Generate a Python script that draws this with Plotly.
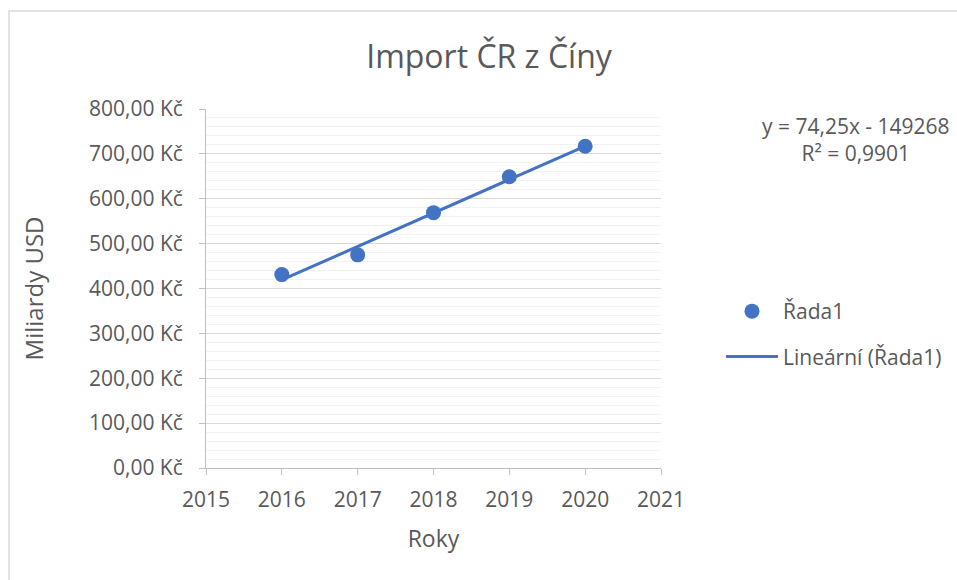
import numpy as np
import plotly.graph_objects as go

# Data
years = [2016, 2017, 2018, 2019, 2020]
import_values = [431, 475, 569, 649, 717]
series_name = "Řada1"
trend_name = "Lineární (Řada1)"
y_tick_vals = [0, 100, 200, 300, 400, 500, 600, 700, 800]
y_tick_text = ["0,00 Kč", "100,00 Kč", "200,00 Kč", "300,00 Kč", "400,00 Kč",
               "500,00 Kč", "600,00 Kč", "700,00 Kč", "800,00 Kč"]
x_tick_vals = [2015, 2016, 2017, 2018, 2019, 2020, 2021]
title_text = "Import ČR z Číny"
x_title = "Roky"
y_title = "Miliardy USD"
equation_text = "y = 74,25x - 149268<br>R² = 0,9901"

W, H = 957, 580
L, R, T, B = 206, 296, 109, 112
PW, PH = W - L - R, H - T - B

def px(x):
    return (x - L) / PW

def py(y):
    return (H - B - y) / PH

blue = "#4472C4"
txt = "#595959"
font_family = "Open Sans, Noto Sans, sans-serif"

slope, intercept = np.polyfit(years, import_values, 1)
trend_x = [years[0], years[-1]]
trend_y = [slope * x + intercept for x in trend_x]

fig = go.Figure()
fig.add_trace(go.Scatter(
    x=years, y=import_values, mode="markers", name=series_name,
    marker=dict(color=blue, size=15), legendgroup="a",
    cliponaxis=False,
))
fig.add_trace(go.Scatter(
    x=trend_x, y=trend_y, mode="lines", name=trend_name,
    line=dict(color=blue, width=3), legendgroup="b",
))

fig.update_layout(
    width=W, height=H,
    margin=dict(l=L, r=R, t=T, b=B, autoexpand=False),
    paper_bgcolor="white", plot_bgcolor="white",
    font=dict(family=font_family, color=txt, size=21),
    title=dict(text=title_text, x=489 / W, xanchor="center", xref="container",
               y=1 - 57 / H, yanchor="middle",
               font=dict(size=32, color=txt, family=font_family)),
    showlegend=True,
    legend=dict(x=px(721), y=py(291), xanchor="left", yanchor="top",
                font=dict(size=21, color=txt), tracegroupgap=15,
                itemwidth=52,
                bgcolor="rgba(0,0,0,0)"),
    xaxis=dict(
        range=[2015, 2021], tickvals=x_tick_vals,
        showgrid=False, zeroline=False,
        showline=True, linecolor="#BFBFBF", linewidth=1,
        ticks="outside", ticklen=6, tickcolor="#BFBFBF",
        ticklabelstandoff=7,
        tickfont=dict(size=21, color=txt),
        title=dict(text=x_title, font=dict(size=23, color=txt), standoff=18),
    ),
    yaxis=dict(
        range=[0, 800], tickvals=y_tick_vals, ticktext=y_tick_text,
        showgrid=True, gridcolor="#D9D9D9", gridwidth=1,
        zeroline=False,
        showline=True, linecolor="#BFBFBF", linewidth=1,
        ticks="outside", ticklen=6, tickcolor="#BFBFBF",
        ticklabelstandoff=12,
        tickfont=dict(size=21, color=txt),
        minor=dict(dtick=20, showgrid=True, gridcolor="#F2F2F2", gridwidth=1),
        title=dict(text=y_title, font=dict(size=24, color=txt), standoff=38),
    ),
    shapes=[dict(type="rect", xref="paper", yref="paper",
                 x0=px(9), x1=px(975), y0=py(595), y1=py(11),
                 line=dict(color="#D9D9D9", width=1.5), layer="below")],
    annotations=[dict(text=equation_text, xref="paper", yref="paper",
                      x=px(856), y=py(139.5), xanchor="center", yanchor="middle",
                      showarrow=False, align="center",
                      font=dict(size=21, color=txt))],
)

fig.write_html("out.html", config={"displayModeBar": False},
               post_script="document.body.style.margin='0px';")
